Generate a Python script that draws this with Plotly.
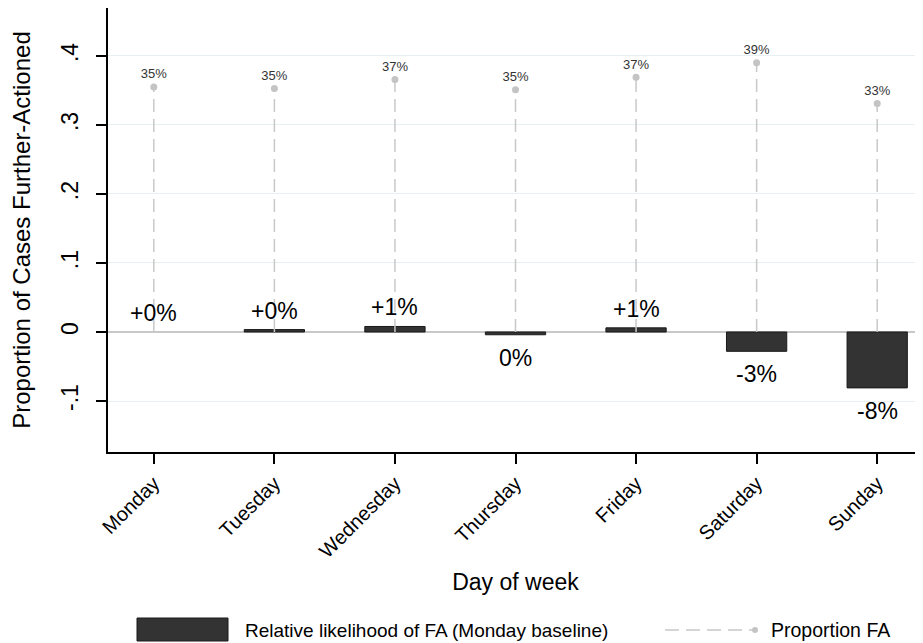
import plotly.graph_objects as go

days = ["Monday", "Tuesday", "Wednesday", "Thursday", "Friday", "Saturday", "Sunday"]
rel_likelihood = [0.0, 0.0035, 0.008, -0.004, 0.006, -0.028, -0.081]
rel_labels = ["+0%", "+0%", "+1%", "0%", "+1%", "-3%", "-8%"]
prop_fa = [0.355, 0.353, 0.366, 0.351, 0.369, 0.390, 0.331]
prop_labels = ["35%", "35%", "37%", "35%", "37%", "39%", "33%"]
y_tickvals = [-0.1, 0, 0.1, 0.2, 0.3, 0.4]
y_ticktext = ["-.1", "0", ".1", ".2", ".3", ".4"]

FONT = "Arial, Liberation Sans, sans-serif"
xpos = list(range(len(days)))

# page body has an 8px margin; figure coordinates are offset accordingly
OFF = 8
FIG_W, FIG_H = 923 - OFF, 643 - OFF
PLOT_L, PLOT_R, PLOT_T, PLOT_B = 108 - OFF, 923 - OFF, 8 - OFF, 452 - OFF

fig = go.Figure()

fig.add_trace(go.Bar(
    x=xpos, y=rel_likelihood, width=0.5,
    marker=dict(color="#333333",
                line=dict(color="#1a1a1a", width=[0 if v == 0 else 1 for v in rel_likelihood])),
    showlegend=False, hoverinfo="skip",
))

# stems from zero to proportion
sx, sy = [], []
for xi, v in zip(xpos, prop_fa):
    sx += [xi, xi, None]
    sy += [0, v, None]
fig.add_trace(go.Scatter(
    x=sx, y=sy, mode="lines",
    line=dict(color="#c8c8c8", width=1.5, dash="13px,7px"),
    showlegend=False, hoverinfo="skip",
))
fig.add_trace(go.Scatter(
    x=xpos, y=prop_fa, mode="markers+text",
    marker=dict(color="#c4c4c4", size=7),
    text=prop_labels, textposition="top center",
    textfont=dict(size=13, color="#333333", family=FONT),
    showlegend=False, hoverinfo="skip", cliponaxis=False,
))

annotations = []
for xi, v, lab in zip(xpos, rel_likelihood, rel_labels):
    if v >= 0:
        annotations.append(dict(x=xi, y=v, xref="x", yref="y", text=lab, showarrow=False,
                                yanchor="bottom", yshift=4,
                                font=dict(size=23, color="black", family=FONT)))
    else:
        annotations.append(dict(x=xi, y=v, xref="x", yref="y", text=lab, showarrow=False,
                                yanchor="top", yshift=-8,
                                font=dict(size=23, color="black", family=FONT)))

# manual legend (reference pixel positions converted to paper coords)
W = PLOT_R - PLOT_L
H = PLOT_B - PLOT_T
def px_x(p):
    return (p - OFF - PLOT_L) / W
def px_y(p):
    return (PLOT_B - (p - OFF)) / H

shapes = [
    dict(type="rect", xref="paper", yref="paper",
         x0=px_x(137), x1=px_x(228), y0=px_y(641), y1=px_y(618),
         fillcolor="#333333", line=dict(color="#1a1a1a", width=1)),
    dict(type="line", xref="paper", yref="paper",
         x0=px_x(665), x1=px_x(752), y0=px_y(630), y1=px_y(630),
         line=dict(color="#c8c8c8", width=1.5, dash="14px,7px")),
    dict(type="circle", xref="paper", yref="paper",
         x0=px_x(752), x1=px_x(758), y0=px_y(633), y1=px_y(627),
         fillcolor="#c4c4c4", line=dict(color="#c4c4c4", width=0)),
]
annotations += [
    dict(x=px_x(243), y=px_y(630), xref="paper", yref="paper", text="Relative likelihood of FA (Monday baseline)",
         showarrow=False, xanchor="left", yanchor="middle", font=dict(size=19, color="black", family=FONT)),
    dict(x=px_x(769), y=px_y(630), xref="paper", yref="paper", text="Proportion FA",
         showarrow=False, xanchor="left", yanchor="middle", font=dict(size=19.5, color="black", family=FONT)),
]

fig.update_layout(
    width=FIG_W, height=FIG_H, autosize=False,
    margin=dict(l=PLOT_L, r=FIG_W - PLOT_R, t=PLOT_T, b=FIG_H - PLOT_B, pad=0),
    plot_bgcolor="white", paper_bgcolor="white",
    font=dict(family=FONT, color="black"),
    shapes=shapes, annotations=annotations,
    xaxis=dict(
        range=[-0.38, 6.38], tickmode="array", tickvals=xpos, ticktext=days,
        tickangle=-45, tickfont=dict(size=20, color="black"),
        ticks="outside", ticklen=10, tickwidth=1.5, tickcolor="black",
        showline=True, linecolor="black", linewidth=1.5,
        showgrid=False, zeroline=False, automargin=False,
        title=dict(text="Day of week", font=dict(size=23, color="black"), standoff=13),
    ),
    yaxis=dict(
        range=[-0.1739, 0.4695], tickmode="array", tickvals=y_tickvals, ticktext=y_ticktext,
        tickangle=-90, tickfont=dict(size=23, color="black"), ticklabelstandoff=9,
        ticks="outside", ticklen=10, tickwidth=1.5, tickcolor="black",
        showline=True, linecolor="black", linewidth=1.5,
        showgrid=True, gridcolor="#e6eff1", gridwidth=1,
        zeroline=True, zerolinecolor="#c8c8c8", zerolinewidth=1.5, automargin=False,
        title=dict(text="Proportion of Cases Further-Actioned", font=dict(size=24, color="black"), standoff=22),
    ),
)

fig.write_html("out.html")
